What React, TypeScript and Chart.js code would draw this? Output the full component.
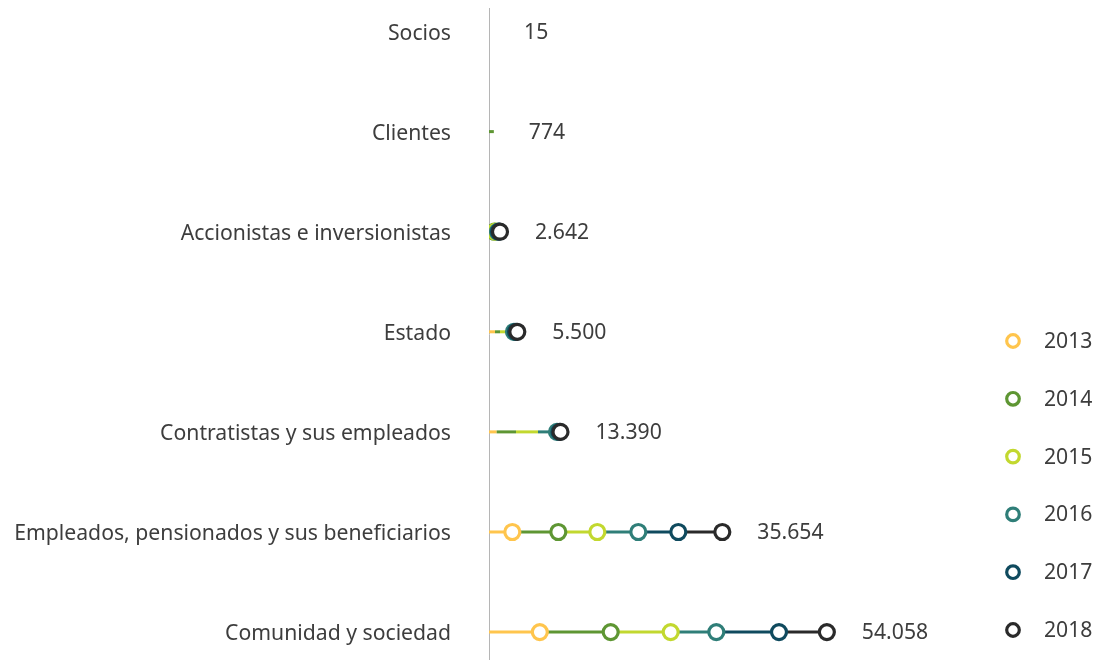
import React, { useEffect, useRef } from "react";
import { Chart, registerables } from "chart.js";

Chart.register(...registerables);

const categories = [
  "Socios",
  "Clientes",
  "Accionistas e inversionistas",
  "Estado",
  "Contratistas y sus empleados",
  "Empleados, pensionados y sus beneficiarios",
  "Comunidad y sociedad",
];

const years = ["2013", "2014", "2015", "2016", "2017", "2018"];

const yearColors = ["#FFC54D", "#5E9633", "#C2D82F", "#2F7E78", "#0F4A5E", "#2A2A2A"];

// value per category (same order as categories)
const v2013 = [0, 0, 320, 960, 1230, 3730, 8130];
const v2014 = [0, 774, 880, 1760, 4320, 11090, 19470];
const v2015 = [0, 774, 1040, 2830, 7840, 17330, 29070];
const v2016 = [0, 774, 1440, 4000, 10880, 23890, 36370];
const v2017 = [0, 774, 1600, 4320, 11280, 30290, 46400];
const v2018 = [15, 774, 1760, 4530, 11440, 37330, 54058];

// totals shown as labels
const totals = [15, 774, 2642, 5500, 13390, 35654, 54058];

// number of trailing years whose marker is visible, per category
const markersShown = [0, 0, 5, 3, 3, 6, 6];

const seriesValues = [v2013, v2014, v2015, v2016, v2017, v2018];

const FONT = "'Noto Sans', 'Open Sans', sans-serif";
const FONT_SIZE = 21.2;
const TEXT_COLOR = "#3d3d3d";

function fmt(n: number): string {
  return String(n).replace(/\B(?=(\d{3})+(?!\d))/g, ".");
}

export default function App() {
  const ref = useRef<HTMLCanvasElement | null>(null);

  useEffect(() => {
    if (!ref.current) return;

    const markerSets = years.map((yr, y) => ({
      label: yr,
      type: "scatter" as const,
      data: categories.map((_, i) => ({ x: seriesValues[y][i], y: i })),
      showLine: false,
      pointRadius: categories.map((_, i) => (y >= 6 - markersShown[i] ? 7.5 : 0)),
      pointHoverRadius: 0,
      pointBackgroundColor: "#ffffff",
      pointBorderColor: yearColors[y],
      pointBorderWidth: 3.2,
      backgroundColor: "#ffffff",
      borderColor: yearColors[y],
      order: 6 - y,
    }));

    const lineSets = categories.map((cat, i) => ({
      label: "__line_" + cat,
      type: "scatter" as const,
      data: [{ x: 0, y: i }, ...years.map((_, y) => ({ x: seriesValues[y][i], y: i }))],
      showLine: true,
      borderWidth: 3,
      pointRadius: 0,
      pointHoverRadius: 0,
      borderColor: yearColors[0],
      segment: {
        borderColor: (ctx: any) => yearColors[ctx.p0DataIndex] || yearColors[5],
      },
      order: 100,
    }));

    const valueLabels = {
      id: "valueLabels",
      afterDatasetsDraw(chart: any) {
        const { ctx, scales } = chart;
        ctx.save();
        ctx.font = `${FONT_SIZE}px ${FONT}`;
        ctx.fillStyle = TEXT_COLOR;
        ctx.textAlign = "left";
        ctx.textBaseline = "middle";
        categories.forEach((_, i) => {
          const x = scales.x.getPixelForValue(v2018[i]) + 35;
          const y = scales.y.getPixelForValue(i) + 1;
          ctx.fillText(fmt(totals[i]), x, y);
        });
        ctx.restore();
      },
    };

    const customLegend = {
      id: "customLegend",
      afterDraw(chart: any) {
        const { ctx } = chart;
        ctx.save();
        const cx = 1013;
        const startY = 341;
        const step = 57.8;
        years.forEach((yr, y) => {
          const cy = startY + y * step;
          ctx.beginPath();
          ctx.arc(cx, cy, 6.3, 0, Math.PI * 2);
          ctx.fillStyle = "#ffffff";
          ctx.fill();
          ctx.lineWidth = 3.2;
          ctx.strokeStyle = yearColors[y];
          ctx.stroke();
          ctx.font = `${FONT_SIZE}px ${FONT}`;
          ctx.fillStyle = TEXT_COLOR;
          ctx.textAlign = "left";
          ctx.textBaseline = "middle";
          ctx.fillText(yr, cx + 31, cy + 1);
        });
        ctx.restore();
      },
    };

    const chart = new Chart(ref.current, {
      type: "scatter",
      data: { datasets: [...markerSets, ...lineSets] as any },
      options: {
        animation: false,
        responsive: true,
        maintainAspectRatio: false,
        layout: { autoPadding: false, padding: { left: 0, right: 105, top: 8, bottom: 0 } },
        plugins: {
          legend: { display: false },
          tooltip: { enabled: false },
        },
        scales: {
          x: {
            type: "linear",
            min: 0,
            max: 80000,
            display: false,
          },
          y: {
            type: "linear",
            reverse: true,
            min: -0.235,
            max: 6.279,
            afterBuildTicks: (scale: any) => {
              scale.ticks = categories.map((_, i) => ({ value: i }));
            },
            afterFit: (scale: any) => {
              scale.width = 489;
              scale.paddingTop = 0;
              scale.paddingBottom = 0;
            },
            grid: { display: false, drawTicks: false },
            border: { display: true, color: "#b5b5b5", width: 1 },
            ticks: {
              padding: 38,
              labelOffset: 2,
              color: TEXT_COLOR,
              font: { family: FONT, size: FONT_SIZE },
              callback: (v: any) => categories[v as number] ?? "",
            },
          },
        },
      },
      plugins: [valueLabels, customLegend],
    });

    return () => chart.destroy();
  }, []);

  return (
    <div style={{ position: "fixed", left: 0, top: 0, width: 1094, height: 660 }}>
      <canvas ref={ref} />
    </div>
  );
}
